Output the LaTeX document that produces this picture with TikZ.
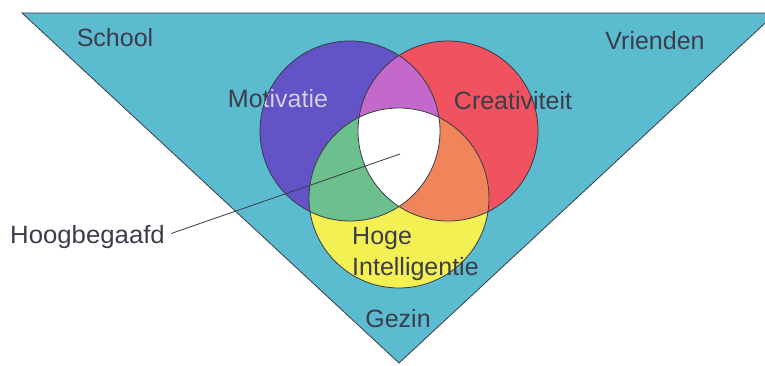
\documentclass[tikz,border=0pt]{standalone}
\usepackage{fontspec}
\setmainfont{Liberation Sans}
\definecolor{tricyan}{HTML}{5CBCCF}
\definecolor{cblue}{HTML}{6253C6}
\definecolor{cred}{HTML}{F0525F}
\definecolor{cyel}{HTML}{F2F052}
\definecolor{cmag}{HTML}{C468CC}
\definecolor{cgreen}{HTML}{6CC08E}
\definecolor{corange}{HTML}{F0845A}
\definecolor{txt}{HTML}{3C3C4A}
\definecolor{lighttxt}{HTML}{D8D0F2}
\definecolor{edge}{HTML}{3A3A48}
\tikzset{
  lbl/.style={font=\fontsize{25}{31}\selectfont, text=txt, inner sep=0pt, anchor=base},
  outline/.style={draw=edge, line width=0.8pt},
}
\begin{document}
\begin{tikzpicture}[x=1pt,y=-1pt]
\useasboundingbox (0,0) rectangle (765,366);
% triangle
\begin{scope}
\clip (0,0) rectangle (765,366);
\fill[tricyan] (22,13) -- (776,13) -- (399,363) -- cycle;
\draw[outline] (22,13) -- (776,13) -- (399,363) -- cycle;
\end{scope}
\coordinate (cb) at (350,131);
\coordinate (cr) at (448,131);
\coordinate (cy) at (399,198);
% circles
\fill[cblue] (cb) circle[radius=90];
\fill[cred] (cr) circle[radius=90];
\fill[cyel] (cy) circle[radius=90];
\begin{scope}
\clip (cb) circle[radius=90];
\fill[cmag] (cr) circle[radius=90];
\fill[cgreen] (cy) circle[radius=90];
\end{scope}
\begin{scope}
\clip (cr) circle[radius=90];
\fill[corange] (cy) circle[radius=90];
\clip (cb) circle[radius=90];
\fill[white] (cy) circle[radius=90];
\end{scope}
\draw[outline] (cb) circle[radius=90];
\draw[outline] (cr) circle[radius=90];
\draw[outline] (cy) circle[radius=90];
% labels
\node[lbl] (school) at (115,47) {School};
\node[lbl] (vrienden) at (655,50) {Vrienden};
\node[lbl] (motiv) at (278,108) {Motivatie};
\begin{scope}
\clip (cb) circle[radius=90];
\node[lbl, text=lighttxt] (motivL) at (278,108) {Motivatie};
\end{scope}
\node[lbl] (creat) at (513,110) {Creativiteit};
\node[lbl, anchor=base west] (hoge) at (352,244) {Hoge};
\node[lbl, anchor=base west] (intel) at (352,275) {Intelligentie};
\node[lbl] (gezin) at (398,327) {Gezin};
\node[lbl, anchor=base west, xscale=1.03] (hb) at (10,243) {Hoogbegaafd};
\coordinate (ctr) at (400,154);
\draw[edge, line width=0.8pt] (hb.east) ++(6,-3) coordinate (hbend) (hbend) -- (ctr);
\end{tikzpicture}
\end{document}
